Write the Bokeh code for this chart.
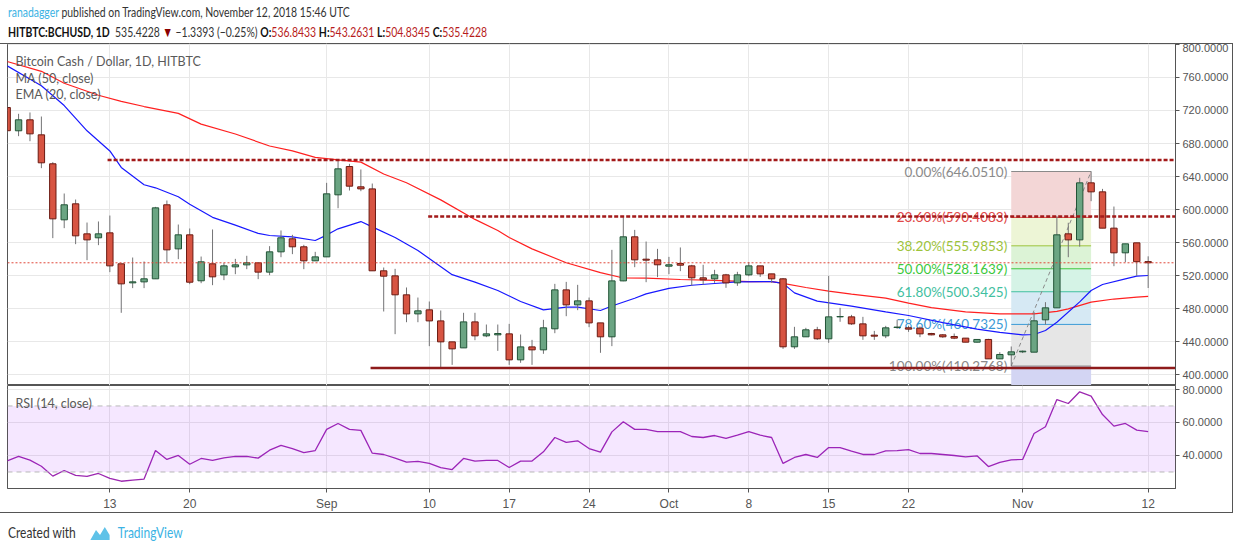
import pandas as pd
from bokeh.plotting import figure
from bokeh.models import (Range1d, FixedTicker, PrintfTickFormatter, Span,
                          BoxAnnotation, Label, Div, ColumnDataSource)
from bokeh.layouts import column
from bokeh.embed import file_html
from bokeh.resources import INLINE
from bokeh.core.properties import value

# ---------------- data ----------------
start_date = "2018-08-04"
end_date = "2018-11-12"

opens = [723.6, 695.4, 708.7, 690.5, 655.4, 587.5, 606.9, 570.5, 565.7, 571.7,
         534.2, 511.1, 512.3, 516.0, 605.7, 552.3, 569.3, 513.6, 534.2, 520.8,
         530.5, 532.9, 535.4, 524.1, 548.7, 564.5, 554.8, 537.8, 542.6, 617.8,
         652.1, 627.5, 625.0, 525.7, 519.6, 496.6, 473.5, 478.4, 465.0, 439.6,
         432.3, 463.8, 446.9, 448.1, 449.3, 417.8, 433.5, 429.9, 455.4, 502.6,
         484.4, 489.3, 462.6, 445.7, 513.5, 566.9, 539.8, 539.0, 531.3, 534.6,
         531.7, 517.2, 516.0, 520.8, 511.1, 520.8, 531.7, 522.0, 516.0, 433.6,
         445.7, 454.2, 443.3, 469.9, 469.9, 461.4, 447.7, 446.9, 457.0, 456.6,
         456.2, 449.7, 448.1, 446.1, 444.1, 439.2, 442.5, 419.0, 423.9, 427.5,
         427.1, 466.3, 480.8, 570.5, 563.2, 632.3, 621.4, 577.4, 547.5, 559.6,
         536.8433]
highs = [726.0, 716.0, 717.6, 712.7, 657.4, 619.4, 612.1, 584.2, 585.5, 592.7,
         534.2, 541.8, 537.0, 603.2, 610.9, 581.8, 577.0, 543.0, 575.8, 535.4,
         540.2, 543.9, 535.4, 555.6, 574.6, 569.3, 557.2, 548.7, 632.3, 659.4,
         655.3, 648.5, 631.5, 529.7, 528.1, 505.5, 493.3, 488.5, 477.6, 439.6,
         474.8, 474.8, 460.6, 460.6, 461.4, 448.5, 442.0, 466.3, 509.9, 512.3,
         508.7, 493.3, 462.6, 551.1, 590.7, 575.3, 561.2, 552.3, 542.6, 554.0,
         533.0, 533.0, 526.9, 522.0, 524.5, 536.2, 531.7, 522.0, 517.0, 457.8,
         456.6, 457.8, 519.6, 480.8, 472.3, 469.9, 452.9, 459.0, 466.3, 459.0,
         458.2, 450.5, 448.9, 449.7, 444.1, 442.9, 443.3, 427.1, 434.0, 429.1,
         475.6, 487.7, 591.9, 583.9, 638.4, 646.051, 625.0, 603.6, 558.4, 559.6,
         543.2631]
lows = [692.0, 688.9, 682.8, 650.1, 565.3, 577.4, 558.0, 538.6, 556.8, 524.1,
        474.8, 504.7, 504.7, 516.0, 535.4, 539.8, 509.5, 510.7, 508.3, 514.4,
        521.6, 527.7, 515.6, 520.4, 542.2, 545.9, 527.7, 537.8, 542.6, 601.6,
        623.0, 622.2, 525.7, 476.4, 448.9, 463.4, 463.4, 434.4, 408.9, 411.7,
        432.3, 441.6, 445.3, 428.7, 411.7, 414.2, 411.7, 425.1, 450.1, 470.7,
        478.0, 457.4, 426.3, 434.4, 513.1, 530.1, 511.9, 518.0, 521.6, 525.3,
        507.5, 508.7, 511.1, 505.1, 507.5, 519.2, 518.4, 511.1, 431.1, 431.1,
        445.7, 442.0, 438.4, 463.9, 460.2, 442.0, 442.0, 444.1, 455.4, 451.7,
        445.3, 447.5, 444.5, 442.9, 439.2, 438.8, 419.0, 419.0, 410.2768, 426.0,
        427.1, 460.6, 480.8, 542.2, 555.0, 610.1, 577.4, 531.3, 536.2, 519.6,
        504.8345]
closes = [695.5, 708.7, 691.7, 656.6, 588.7, 605.7, 568.1, 563.2, 570.5, 531.7,
          509.9, 512.3, 516.0, 602.0, 551.1, 569.3, 511.9, 536.6, 518.4, 531.7,
          532.9, 535.4, 524.1, 548.7, 565.7, 554.8, 537.8, 542.6, 619.0, 649.3,
          628.3, 625.0, 525.7, 519.2, 496.6, 473.5, 477.2, 465.0, 439.6, 431.1,
          463.8, 446.9, 449.3, 449.7, 417.8, 433.5, 429.9, 456.6, 502.6, 484.4,
          489.3, 462.6, 445.7, 513.5, 566.9, 539.0, 538.6, 533.0, 533.0, 532.5,
          517.2, 514.8, 520.8, 511.1, 520.8, 531.7, 522.0, 516.0, 433.6, 445.7,
          454.2, 443.3, 469.9, 470.3, 461.4, 446.9, 446.5, 456.6, 457.5, 455.0,
          449.3, 448.1, 445.7, 444.1, 439.2, 442.5, 419.0, 424.3, 427.5, 428.3,
          465.1, 480.8, 569.3, 563.2, 632.3, 621.4, 577.4, 547.5, 558.4, 536.7621,
          535.4228]

rsi_values = [36.8, 39.4, 37.2, 33.5, 27.5, 30.9, 27.9, 27.3, 29.1, 26.1,
              24.4, 25.1, 25.7, 43.0, 37.6, 40.0, 34.7, 38.2, 37.0, 38.6,
              39.4, 39.4, 38.4, 43.2, 46.1, 44.2, 41.8, 43.0, 55.8, 59.4,
              55.8, 55.2, 41.4, 40.6, 38.4, 36.0, 36.4, 35.2, 32.7, 31.5,
              38.2, 36.6, 37.0, 37.0, 32.7, 36.6, 36.6, 42.2, 50.9, 47.9,
              48.9, 44.2, 42.0, 54.3, 60.4, 55.8, 55.8, 54.5, 54.5, 54.5,
              51.5, 50.9, 52.1, 50.3, 52.3, 54.5, 52.3, 50.9, 35.2, 38.8,
              40.6, 38.8, 44.8, 44.8, 42.6, 40.6, 40.6, 42.8, 43.0, 43.6,
              41.2, 41.2, 40.6, 40.0, 39.2, 39.8, 33.3, 35.8, 37.4, 37.6,
              53.3, 57.4, 73.9, 71.5, 78.6, 76.0, 64.8, 57.8, 59.4, 55.4, 54.5]

ma50_idx = [0, 3, 5, 8, 10, 12, 15, 17, 20, 23, 25, 27, 29, 31, 33, 35, 38, 41, 43, 44,
            46, 49, 52, 54, 56, 59, 62, 65, 67, 68, 70, 72, 74, 77, 79, 81, 84, 87, 90, 92,
            93, 95, 97, 99, 100]
ma50_val = [779.4, 767.5, 753.0, 738.5, 731.0, 724.8, 716.5, 703.5, 691.5, 677.0,
            671.0, 663.2, 660.2, 657.4, 643.0, 632.5, 611.7, 588.0, 574.5, 566.0,
            552.3, 535.5, 523.5, 517.0, 516.8, 515.2, 514.0, 512.7, 512.7, 510.5,
            505.5, 501.0, 497.5, 492.5, 486.5, 481.0, 476.0, 473.6, 473.6, 476.5,
            479.6, 487.7, 491.5, 493.8, 494.6]
ema20_idx = [0, 3, 5, 7, 9, 10, 12, 13, 15, 16, 18, 20, 22, 23, 25, 27, 28, 29, 31, 32,
             34, 36, 39, 41, 43, 45, 47, 49, 50, 52, 53, 55, 56, 58, 60, 62, 64, 67, 68, 69,
             71, 74, 77, 79, 82, 85, 87, 89, 90, 91, 92, 94, 95, 96, 98, 99, 100]
ema20_val = [774.2, 750.0, 726.0, 695.4, 671.0, 651.0, 630.0, 626.3, 615.5, 606.5,
             590.5, 581.0, 571.0, 568.5, 566.9, 562.4, 569.0, 576.6, 585.4, 579.0,
             566.0, 550.3, 521.0, 512.0, 501.8, 488.5, 478.4, 481.6, 481.6, 477.6,
             483.0, 492.5, 497.8, 504.5, 508.2, 510.3, 512.2, 512.7, 510.5, 499.0,
             489.0, 483.0, 476.0, 471.5, 463.0, 455.0, 451.0, 448.1, 448.5, 453.4,
             463.4, 488.0, 501.8, 509.1, 516.0, 519.2, 520.0]

tick_dates = ["2018-08-13", "2018-08-20", "2018-09-01", "2018-09-10", "2018-09-17",
              "2018-09-24", "2018-10-01", "2018-10-08", "2018-10-15", "2018-10-22",
              "2018-11-01", "2018-11-12"]
tick_labels = ["13", "20", "Sep", "10", "17", "24", "Oct", "8", "15", "22", "Nov", "12"]
price_ticks = [400, 440, 480, 520, 560, 600, 640, 680, 720, 760, 800]
rsi_ticks = [40, 60, 80]

fib_ratios = [0.0, 0.236, 0.382, 0.5, 0.618, 0.786, 1.0]
fib_high = 646.0510
fib_low = 410.2768
fib_from = "2018-10-31"
fib_to = "2018-11-07"

hline_levels = [660.0753, 591.4100, 408.0182]
hline_start_idx = [8.8, 36.9, 31.85]

# ---------------- derived ----------------
dates = pd.date_range(start_date, end_date, freq="D")
idx = list(range(len(dates)))
d0 = pd.Timestamp(start_date)
xtick_pos = [(pd.Timestamp(d) - d0).days for d in tick_dates]
fib_i0 = (pd.Timestamp(fib_from) - d0).days
fib_i1 = (pd.Timestamp(fib_to) - d0).days
fib_levels = [fib_high - r * (fib_high - fib_low) for r in fib_ratios]
fib_text = ["%.2f%%(%.4f)" % (r * 100, lv) for r, lv in zip(fib_ratios, fib_levels)]
fib_ext = fib_high - 1.618 * (fib_high - fib_low)

last_o, last_h, last_l, last_c = opens[-1], highs[-1], lows[-1], closes[-1]
chg = last_c - closes[-2]
chg_pct = chg / closes[-2] * 100

UP_FILL, UP_LINE = "#6ba583", "#225437"
DN_FILL, DN_LINE = "#d75442", "#6b1a12"
AX = "#555555"
GRID = "#e8e8e8"
LB = 7          # left gutter
FW = 1168       # plot frame width
RB = 58         # price-scale width
X0 = 0.03
X1 = X0 + FW / 11.41

up = [c >= o for o, c in zip(opens, closes)]
src = ColumnDataSource(dict(
    x=idx, o=opens, h=highs, l=lows, c=closes,
    top=[max(o, c) for o, c in zip(opens, closes)],
    bot=[min(o, c) for o, c in zip(opens, closes)],
    fill=[UP_FILL if u else DN_FILL for u in up],
    line=[UP_LINE if u else DN_LINE for u in up],
))


def style_yaxis(ax):
    ax.formatter = PrintfTickFormatter(format="%.4f")
    ax.major_label_text_font = "Liberation Sans"
    ax.major_label_text_font_size = "11px"
    ax.major_label_text_color = AX
    ax.axis_line_color = AX
    ax.major_tick_line_color = AX
    ax.major_tick_out = 4
    ax.major_tick_in = 0
    ax.minor_tick_line_color = None
    ax.major_label_standoff = 3


# ---------------- price pane ----------------
p = figure(frame_width=FW, frame_height=342, x_range=Range1d(X0, X1),
           y_range=Range1d(386.7, 801.2), x_axis_location=None, y_axis_location="right",
           output_backend="svg", toolbar_location=None,
           min_border_left=LB, min_border_right=RB, min_border_top=0, min_border_bottom=0,
           outline_line_color=AX, background_fill_color="white", border_fill_alpha=0)
p.yaxis.ticker = FixedTicker(ticks=price_ticks)
style_yaxis(p.yaxis)
p.ygrid.ticker = FixedTicker(ticks=price_ticks)
p.ygrid.grid_line_color = GRID
p.xgrid.ticker = FixedTicker(ticks=xtick_pos)
p.xgrid.grid_line_color = GRID

# fib bands
band_colors = ["#f3d6d6", "#edf5d6", "#dcf3d6", "#d5f3e6", "#d6e9f4", "#e6e6e6"]
p.quad(left=[fib_i0] * 6, right=[fib_i1] * 6, top=fib_levels[:-1], bottom=fib_levels[1:],
       fill_color=band_colors, line_color=None)
p.quad(left=[fib_i0], right=[fib_i1], top=[fib_low], bottom=[fib_ext],
       fill_color="#d3d5f3", line_color=None)
fib_colors = ["#8a8a8a", "#e04848", "#9dc33a", "#3cc83c", "#42c0a0", "#3c9ad6", "#8a8a8a"]
p.segment(x0=[fib_i0] * 7, x1=[fib_i1] * 7, y0=fib_levels, y1=fib_levels,
          line_color=fib_colors, line_width=1)
p.line([fib_i0, fib_i1], [fib_low, fib_high], line_color="#8a8a8a", line_dash="4 3", line_width=1)
p.text(x=[fib_i0] * 7, y=fib_levels, text=fib_text, text_align="right", text_baseline="middle",
       x_offset=-4, text_font=value("Lato"), text_font_size="13.5px", text_color=fib_colors)

# moving averages
p.line(ma50_idx, ma50_val, line_color="#ff2020", line_width=1.2)
p.line(ema20_idx, ema20_val, line_color="#1818ff", line_width=1.2)

# candles
p.segment(x0="x", x1="x", y0="l", y1="h", source=src, line_color="#737375", line_width=1)
p.vbar(x="x", width=0.56, top="top", bottom="bot", source=src,
       fill_color="fill", line_color="line", line_width=1)

# drawn horizontal lines
p.segment(x0=hline_start_idx[:2], x1=[X1] * 2, y0=hline_levels[:2], y1=hline_levels[:2],
          line_color="#a31a1a", line_width=2.5, line_dash="4 2")
p.segment(x0=hline_start_idx[2:], x1=[X1], y0=hline_levels[2:], y1=hline_levels[2:],
          line_color="#8e1b1b", line_width=2.5)
p.add_layout(Span(location=last_c, dimension="width", line_color="#e0483a",
                  line_width=1, line_dash="2 2"))

# axis price boxes
for lv, col in [(hline_levels[0], "#960000"), (hline_levels[1], "#960000"),
                (last_c, "#dd5a48"), (hline_levels[2], "#960000")]:
    p.add_layout(Label(x=FW + 1, x_units="screen", y=lv, y_units="data", text="%.4f" % lv,
                       text_color="white", text_font_style="bold", text_font="Liberation Sans",
                       text_font_size="11.5px", text_baseline="middle", text_align="left",
                       background_fill_color=col, padding=4))

# legend texts
for yy, t in [(324, "Bitcoin Cash / Dollar, 1D, HITBTC"),
              (307, "MA (50, close)"), (291, "EMA (20, close)")]:
    p.add_layout(Label(x=8, y=yy, x_units="screen", y_units="screen", text=t,
                       text_color="#5a5a5a", text_font="Lato", text_font_size="12.5px",
                       text_baseline="middle"))

# ---------------- RSI pane ----------------
r = figure(frame_width=FW, frame_height=103, x_range=p.x_range, y_range=Range1d(20, 82.4),
           y_axis_location="right", output_backend="svg", toolbar_location=None,
           min_border_left=LB, min_border_right=RB, min_border_top=0, min_border_bottom=25,
           outline_line_color=AX, background_fill_color="white", border_fill_alpha=0)
r.yaxis.ticker = FixedTicker(ticks=rsi_ticks)
style_yaxis(r.yaxis)
r.xaxis.ticker = FixedTicker(ticks=xtick_pos)
r.xaxis.major_label_overrides = {pos: lab for pos, lab in zip(xtick_pos, tick_labels)}
r.xaxis.major_label_text_font = "Liberation Sans"
r.xaxis.major_label_text_font_size = "12px"
r.xaxis.major_label_text_color = AX
r.xaxis.axis_line_color = AX
r.xaxis.major_tick_line_color = AX
r.xaxis.major_tick_out = 4
r.xaxis.major_tick_in = 0
r.xaxis.minor_tick_line_color = None
r.xaxis.major_label_standoff = 4
r.ygrid.ticker = FixedTicker(ticks=rsi_ticks)
r.ygrid.grid_line_color = GRID
r.xgrid.ticker = FixedTicker(ticks=xtick_pos)
r.xgrid.grid_line_color = GRID
r.add_layout(BoxAnnotation(bottom=30, top=70, fill_color="#9915ff", fill_alpha=0.1,
                           line_color=None))
for lv in (70, 30):
    r.add_layout(Span(location=lv, dimension="width", line_color="#b8b8b8",
                      line_dash="5 4", line_width=1))
r.line(idx, rsi_values, line_color="#9c27b0", line_width=1.3)
r.add_layout(Label(x=8, y=85.5, x_units="screen", y_units="screen", text="RSI (14, close)",
                   text_color="#5a5a5a", text_font="Lato", text_font_size="12.5px",
                   text_baseline="middle"))

# ---------------- header / footer ----------------
SQ = "display:inline-block;transform-origin:0 0;white-space:nowrap"
header_html = (
    '<div style="font-family:Lato,sans-serif;font-size:14px;line-height:20px;color:#333;'
    'padding-top:2px;transform:scaleX(0.745);%s">'
    '<span style="color:#3bb3e4">ranadagger</span> published on TradingView.com, '
    'November 12, 2018 15:46 UTC<br>'
    '<span style="color:#111;font-weight:bold">HITBTC:BCHUSD, 1D</span>&nbsp; '
    '%.4f <span style="color:#8b0000">&#9660;</span> &minus;%.4f (&minus;%.2f%%) '
    '<b style="color:#111">O:</b><span style="color:#b71c1c">%.4f</span> '
    '<b style="color:#111">H:</b><span style="color:#b71c1c">%.4f</span> '
    '<b style="color:#111">L:</b><span style="color:#b71c1c">%.4f</span> '
    '<b style="color:#111">C:</b><span style="color:#b71c1c">%.4f</span></div>'
    % (SQ, last_c, abs(chg), abs(chg_pct), last_o, last_h, last_l, last_c))
header = Div(text=header_html, width=700, height=43, margin=(0, 0, 0, 8))

footer_html = (
    '<div style="font-family:Lato,sans-serif;font-size:15px;line-height:20px;color:#333;'
    'padding-top:9px;transform:scaleX(0.8);%s">'
    'Created with&nbsp;&nbsp;&nbsp;&nbsp;'
    '<svg width="30" height="16" viewBox="0 0 26 16" style="vertical-align:-3px">'
    '<path d="M1 15 L8 5 L13 10 L19 2 L25 10 L25 15 Z" fill="#5fc2e8"/></svg>'
    '&nbsp;&nbsp;<span style="color:#3bb3e4">TradingView</span></div>' % SQ)
footer = Div(text=footer_html, width=400, height=34, margin=(0, 0, 0, 8))

# outer frame of the chart (right + bottom + top edges) drawn by the container
charts = column(p, r, spacing=0,
                styles={"box-shadow": "inset -1px 0 0 0 #555555, inset 0 -1px 0 0 #555555, "
                                      "inset 0 1px 0 0 #555555"})

layout = column(header, charts, footer, spacing=0)
open("out.html", "w").write(file_html(layout, INLINE))
